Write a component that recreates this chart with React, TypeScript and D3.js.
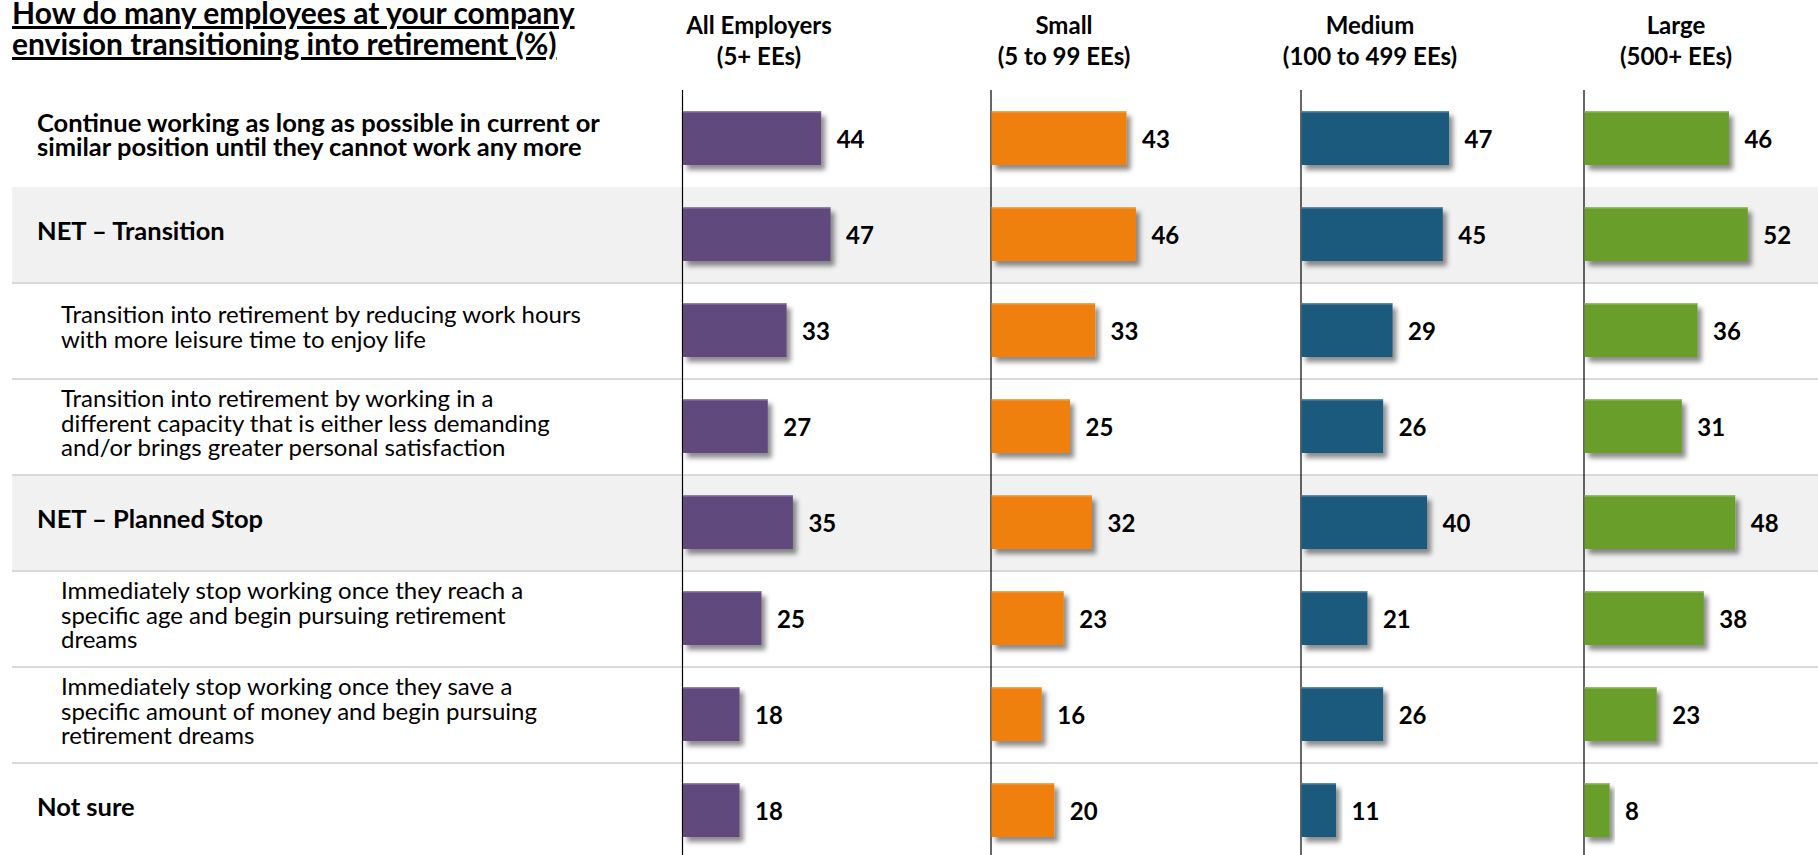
import React from "react";
import * as d3 from "d3";

const titleLines = ["How do many employees at your company", "envision transitioning into retirement (%)"];

const groups = ["All Employers", "Small", "Medium", "Large"];
const groupSubs = ["(5+ EEs)", "(5 to 99 EEs)", "(100 to 499 EEs)", "(500+ EEs)"];
const groupColors = ["#604A7B", "#F0800B", "#1F5A7D", "#6B9E29"];

const categories: string[][] = [
  ["Continue working as long as possible in current or", "similar position until they cannot work any more"],
  ["NET \u2013 Transition"],
  ["Transition into retirement by reducing work hours", "with more leisure time to enjoy life"],
  ["Transition into retirement by working in a", "different capacity that is either less demanding", "and/or brings greater personal satisfaction"],
  ["NET \u2013 Planned Stop"],
  ["Immediately stop working once they reach a", "specific age and begin pursuing retirement", "dreams"],
  ["Immediately stop working once they save a", "specific amount of money and begin pursuing", "retirement dreams"],
  ["Not sure"],
];
const categoryBold = [true, true, false, false, true, false, false, true];
const categoryShaded = [false, true, false, false, true, false, false, false];

const allEmployers = [44, 47, 33, 27, 35, 25, 18, 18];
const small = [43, 46, 33, 25, 32, 23, 16, 20];
const medium = [47, 45, 29, 26, 40, 21, 26, 11];
const large = [46, 52, 36, 31, 48, 38, 23, 8];
const seriesValues = [allEmployers, small, medium, large];

// layout
const W = 1818;
const H = 855;
const panelX = [682.5, 991, 1301, 1584];
const headerCenterX = [759, 1064, 1370, 1676];
const rowTop = 91;
const rowH = 96;
const FONT = "Lato, 'Open Sans', sans-serif";

export default function App() {
  const y = d3
    .scaleBand<number>()
    .domain(d3.range(categories.length))
    .range([rowTop, rowTop + rowH * categories.length])
    .paddingInner(0)
    .paddingOuter(0);
  const x = d3.scaleLinear().domain([0, 100]).range([0, 314]);
  const barH = 54;
  const barOff = 20;

  return (
    <svg
      width={W}
      height={H}
      style={{ position: "absolute", left: 0, top: 0, background: "#fff" }}
      fontFamily={FONT}
    >
      <defs>
        <filter id="shadow" x="-10%" y="-20%" width="130%" height="160%">
          <feDropShadow dx="4" dy="5" stdDeviation="2.5" floodColor="#000" floodOpacity="0.45" />
        </filter>
      </defs>

      {/* shaded rows */}
      {categories.map((_, i) =>
        categoryShaded[i] ? (
          <rect key={"sh" + i} x={12} y={y(i)!} width={W - 12} height={y.bandwidth()} fill="#F1F1F1" />
        ) : null
      )}
      {/* separators */}
      {categories.map((_, i) => {
        if (i === 0) return null;
        if (categoryShaded[i] && i === 1) return null;
        return (
          <line key={"sep" + i} x1={12} x2={W} y1={y(i)!} y2={y(i)!} stroke="#D9D9D9" strokeWidth={2} />
        );
      })}

      {/* title */}
      {titleLines.map((t, i) => (
        <text
          key={"t" + i}
          x={12}
          y={24 + i * 31}
          fontSize={30}
          fontWeight={700}
          fill="#000"
          style={{ textDecoration: "underline" }}
        >
          {t}
        </text>
      ))}

      {/* headers */}
      {groups.map((g, gi) => (
        <g key={"h" + gi}>
          <text x={headerCenterX[gi]} y={34} textAnchor="middle" fontSize={24} fontWeight={700} fill="#000">
            {g}
          </text>
          <text x={headerCenterX[gi]} y={65} textAnchor="middle" fontSize={24} fontWeight={700} fill="#000">
            {groupSubs[gi]}
          </text>
        </g>
      ))}

      {/* category labels */}
      {categories.map((lines, i) => {
        const cy = y(i)! + y.bandwidth() / 2 - 5;
        const lh = 24.5;
        const start = cy - ((lines.length - 1) * lh) / 2;
        const lx = categoryBold[i] ? 37 : 61;
        return (
          <text
            key={"c" + i}
            x={lx}
            fontSize={categoryBold[i] ? 25.5 : 24}
            fontWeight={categoryBold[i] ? 700 : 400}
            fill="#000"
          >
            {lines.map((l, li) => (
              <tspan key={li} x={lx} y={start + li * lh} dominantBaseline="central">
                {l}
              </tspan>
            ))}
          </text>
        );
      })}

      {/* axis lines */}
      {panelX.map((px, gi) => (
        <line key={"ax" + gi} x1={px} x2={px} y1={90} y2={H} stroke="#000" strokeWidth={1.2} />
      ))}

      {/* bars */}
      {seriesValues.map((vals, gi) => (
        <g key={"s" + gi} transform={`translate(${panelX[gi]},0)`}>
          {vals.map((v, i) => {
            const by = y(i)! + barOff;
            return (
              <g key={i}>
                <rect x={0.5} y={by} width={x(v)} height={barH} fill={groupColors[gi]} filter="url(#shadow)" />
                <rect x={0.5} y={by} width={x(v)} height={1.5} fill="#fff" opacity={0.3} />
                <text
                  x={x(v) + 16}
                  y={by + barH / 2}
                  dominantBaseline="central"
                  fontSize={24}
                  fontWeight={700}
                  fill="#000"
                >
                  {v}
                </text>
              </g>
            );
          })}
        </g>
      ))}
    </svg>
  );
}
